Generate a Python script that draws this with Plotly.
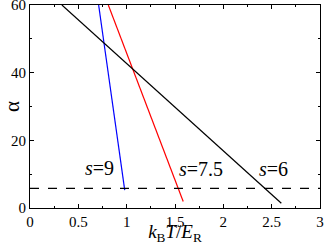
import plotly.graph_objects as go

# data
blue_x = [0.71, 0.98]
blue_y = [60, 5.3]
red_x = [0.81, 1.585]
red_y = [60, 1.9]
black_x = [0.33, 2.6]
black_y = [60, 1.4]
dash_y = 5.8
labels = ["<i>s</i>=9", "<i>s</i>=7.5", "<i>s</i>=6"]
label_x = [0.72, 1.77, 2.52]
label_y = [11.8, 11.5, 11.5]

font = "Times New Roman, Liberation Serif, DejaVu Serif, serif"
fig = go.Figure()
fig.add_trace(go.Scatter(x=blue_x, y=blue_y, mode="lines", line=dict(color="blue", width=1.2)))
fig.add_trace(go.Scatter(x=red_x, y=red_y, mode="lines", line=dict(color="red", width=1.2)))
fig.add_trace(go.Scatter(x=black_x, y=black_y, mode="lines", line=dict(color="black", width=1.2)))
fig.add_trace(go.Scatter(x=[0, 3], y=[dash_y, dash_y], mode="lines",
                         line=dict(color="black", width=1.2, dash="dash")))
for t, x, y in zip(labels, label_x, label_y):
    fig.add_annotation(x=x, y=y, text=t, showarrow=False,
                       font=dict(family=font, size=20, color="black"))

axis_common = dict(showline=True, linecolor="black", linewidth=1, mirror="allticks",
                   ticks="inside", ticklen=4, tickcolor="black", showgrid=False,
                   zeroline=False, automargin=False, ticklabeloverflow="allow",
                   tickfont=dict(family=font, size=15, color="black"))
fig.update_xaxes(range=[0, 3], tickvals=[0, 0.5, 1, 1.5, 2, 2.5, 3],
                 ticktext=["0", "0.5", "1", "1.5", "2", "2.5", "3"],
                 minor=dict(tickvals=[0.25, 0.75, 1.25, 1.75, 2.25, 2.75], ticks="inside",
                            ticklen=2, tickcolor="black"),
                 title=dict(text="<i>k</i><sub>B</sub><i>T</i>/<i>E</i><sub>R</sub>",
                            font=dict(family=font, size=19, color="black"), standoff=0),
                 **axis_common)
fig.update_yaxes(range=[0, 60], tickvals=[0, 20, 40, 60],
                 minor=dict(tickvals=[10, 30, 50], ticks="inside", ticklen=2, tickcolor="black"),
                 title=dict(text="α", font=dict(family=font, size=21, color="black"), standoff=0),
                 **axis_common)
fig.update_layout(width=324, height=245, margin=dict(l=30, r=4, t=5, b=37),
                  plot_bgcolor="white", paper_bgcolor="white", showlegend=False)
fig.write_html("out.html", config={"displayModeBar": False},
               post_script="document.body.style.margin='0';")
